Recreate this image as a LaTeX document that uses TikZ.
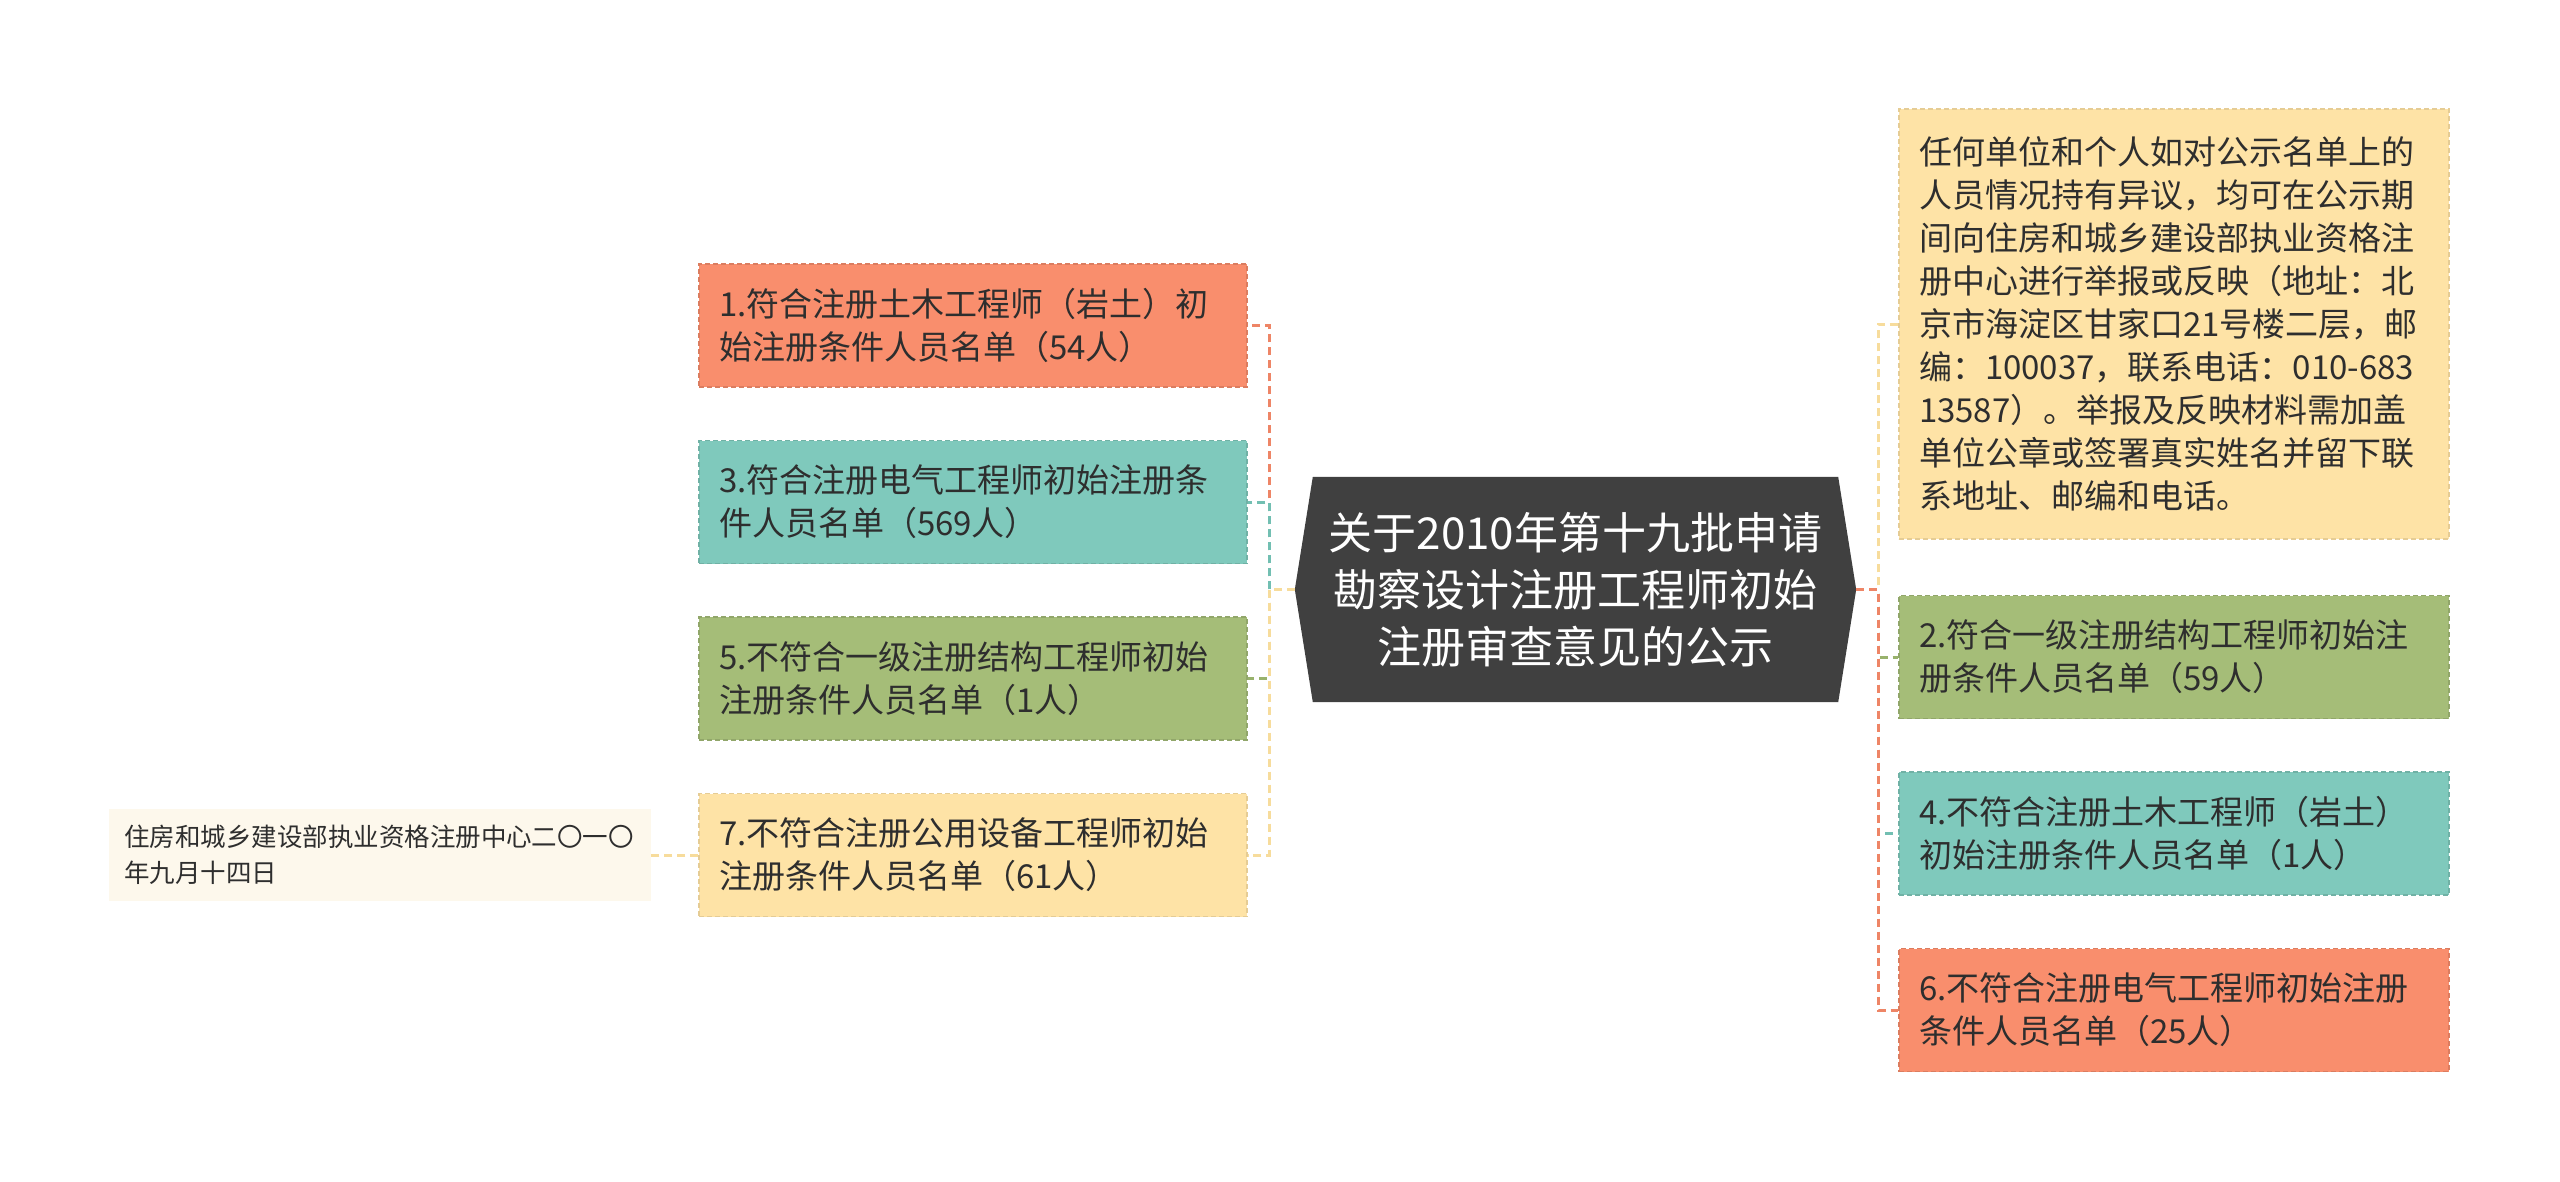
\documentclass[tikz,border=0pt]{standalone}
\usepackage{fontspec}
\setmainfont{Noto Sans CJK SC}
\usetikzlibrary{backgrounds}
\definecolor{cSalmon}{HTML}{F98E6D}
\definecolor{cTeal}{HTML}{7FC9BC}
\definecolor{cGreen}{HTML}{A5BD78}
\definecolor{cYellow}{HTML}{FEE3A6}
\definecolor{cDate}{HTML}{FDF8EC}
\definecolor{cDark}{HTML}{404040}
\definecolor{cText}{HTML}{2E2E2E}
\definecolor{lSalmon}{HTML}{EE8566}
\definecolor{lTeal}{HTML}{72BFB2}
\definecolor{lGreen}{HTML}{98B26C}
\definecolor{lYellow}{HTML}{F7DC9C}
\begin{document}
\begin{tikzpicture}[x=1pt,y=1pt,
  leaf/.style={rectangle, inner xsep=20pt, inner ysep=0pt, minimum height=123pt,
    text width=#1, align=left, font=\fontsize{33}{43}\selectfont, text=cText,
    line width=1.2pt, dash pattern=on 5pt off 3pt},
  datebox/.style={rectangle, inner xsep=15pt, inner ysep=0pt, minimum height=92pt,
    text width=512pt, align=left, font=\fontsize{25.5}{36}\selectfont, text=cText, fill=cDate},
  conn/.style={line width=3pt, dash pattern=on 8pt off 5pt},
  centre/.style={rectangle, inner sep=0pt, minimum width=561pt, minimum height=225pt,
    align=center, text=white, font=\fontsize{44}{57}\selectfont}
]
\useasboundingbox (0,0) rectangle (2560,-1181);

% central node
\node[centre] (c) at (1575.5,-589.5) {关于2010年第十九批申请\\勘察设计注册工程师初始\\注册审查意见的公示};
\begin{scope}[on background layer]
\fill[white] (0,0) rectangle (2560,-1181);
\fill[cDark] (c.west) -- ([xshift=18pt]c.north west) -- ([xshift=-18pt]c.north east)
  -- (c.east) -- ([xshift=-18pt]c.south east) -- ([xshift=18pt]c.south west) -- cycle;
\end{scope}

% left children
\node[leaf=508pt, fill=cSalmon, draw=cSalmon!88!black] (b1) at (973,-325.5) {1.符合注册土木工程师（岩土）初\\始注册条件人员名单（54人）};
\node[leaf=508pt, fill=cTeal, draw=cTeal!88!black] (b3) at (973,-502) {3.符合注册电气工程师初始注册条\\件人员名单（569人）};
\node[leaf=508pt, fill=cGreen, draw=cGreen!88!black] (b5) at (973,-678.5) {5.不符合一级注册结构工程师初始\\注册条件人员名单（1人）};
\node[leaf=508pt, fill=cYellow, draw=cYellow!90!black] (b7) at (973,-855) {7.不符合注册公用设备工程师初始\\注册条件人员名单（61人）};
\node[datebox] (d) at (380,-855) {住房和城乡建设部执业资格注册中心二〇一〇\\年九月十四日};

% right children
\node[leaf=510pt, fill=cYellow, draw=cYellow!90!black, minimum height=430pt] (r0) at (2174,-324) {任何单位和个人如对公示名单上的\\人员情况持有异议，均可在公示期\\间向住房和城乡建设部执业资格注\\册中心进行举报或反映（地址：北\\京市海淀区甘家口21号楼二层，邮\\编：100037，联系电话：010-683\\13587）。举报及反映材料需加盖\\单位公章或签署真实姓名并留下联\\系地址、邮编和电话。};
\node[leaf=510pt, fill=cGreen, draw=cGreen!88!black] (r2) at (2174,-657) {2.符合一级注册结构工程师初始注\\册条件人员名单（59人）};
\node[leaf=510pt, fill=cTeal, draw=cTeal!88!black] (r4) at (2174,-833.5) {4.不符合注册土木工程师（岩土）\\初始注册条件人员名单（1人）};
\node[leaf=510pt, fill=cSalmon, draw=cSalmon!88!black] (r6) at (2174,-1010) {6.不符合注册电气工程师初始注册\\条件人员名单（25人）};

% connectors
\coordinate (lj) at (1269,-589.5);
\coordinate (rj) at (1878,-589.5);
\draw[conn, lSalmon] (c.west) -- (lj) |- (b1.east);
\draw[conn, lTeal] (c.west) -- (lj) |- (b3.east);
\draw[conn, lGreen] (c.west) -- (lj) |- (b5.east);
\draw[conn, lYellow] (c.west) -- (lj) |- (b7.east);
\draw[conn, lYellow] (b7.west) -- (d.east);
\draw[conn, lYellow] (c.east) -- (rj) |- (r0.west);
\draw[conn, lGreen] (c.east) -- (rj) |- (r2.west);
\draw[conn, lTeal] (c.east) -- (rj) |- (r4.west);
\draw[conn, lSalmon] (c.east) -- (rj) |- (r6.west);
\end{tikzpicture}
\end{document}
